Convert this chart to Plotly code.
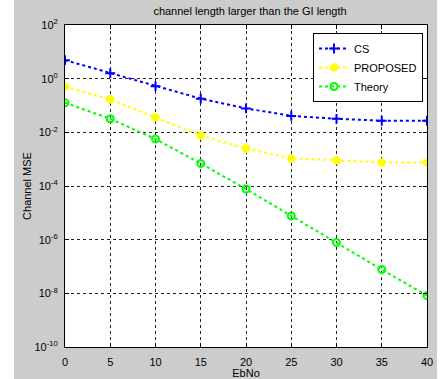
import plotly.graph_objects as go

ebno = [0, 5, 10, 15, 20, 25, 30, 35, 40]
cs = [4.9, 1.6, 0.52, 0.18, 0.078, 0.041, 0.032, 0.027, 0.027]
proposed = [0.5, 0.17, 0.036, 0.0076, 0.0025, 0.00107, 0.00091, 0.00075, 0.00075]
theory = [0.126, 0.032, 0.0056, 0.00069, 7.7e-5, 7.6e-6, 7.8e-7, 7.7e-8, 8.2e-9]

ytick_vals = [1e-10, 1e-8, 1e-6, 1e-4, 1e-2, 1, 1e2]
ytick_text = ["10<sup>-10</sup>", "10<sup>-8</sup>", "10<sup>-6</sup>", "10<sup>-4</sup>",
              "10<sup>-2</sup>", "10<sup>0</sup>", "10<sup>2</sup>"]
xtick_vals = [0, 5, 10, 15, 20, 25, 30, 35, 40]

FONT = "Liberation Sans, Arial, sans-serif"

fig = go.Figure()
fig.add_trace(go.Scatter(x=ebno, y=cs, name="CS", mode="lines+markers",
                         line=dict(color="#0000ff", width=2, dash="dot"),
                         marker=dict(symbol="cross-thin-open", size=7, line=dict(color="#0000ff", width=2))))
fig.add_trace(go.Scatter(x=ebno, y=proposed, name="PROPOSED", mode="lines+markers",
                         line=dict(color="#ffff00", width=2, dash="dot"),
                         marker=dict(symbol="asterisk-open", size=7, line=dict(color="#ffff00", width=2.5))))
fig.add_trace(go.Scatter(x=ebno, y=theory, name="Theory", mode="lines+markers",
                         line=dict(color="#00ff00", width=2, dash="dot"),
                         marker=dict(symbol="circle-open", size=7, line=dict(color="#00ff00", width=2))))

L, R, T, B = 65, 16, 25, 32
W, H = 443, 379
pw, ph = W - L - R, H - T - B

fig.add_shape(type="rect", xref="paper", yref="paper",
              x0=(14 - L) / pw, x1=(437 - L) / pw, y0=-(H - T - ph) / ph - 0.05, y1=(H - B) / ph + 0.01,
              fillcolor="#cccccc", line=dict(width=0), layer="below")
fig.add_shape(type="rect", xref="paper", yref="paper", x0=0, x1=1, y0=0, y1=1,
              fillcolor="white", line=dict(width=0), layer="below")

axis_common = dict(showline=True, linecolor="black", linewidth=1, mirror="ticks",
                   ticks="inside", ticklen=4, tickcolor="black", automargin=False,
                   showgrid=True, gridcolor="#222222", gridwidth=1, griddash="3px,3px",
                   zeroline=False, tickfont=dict(family=FONT, size=11, color="black"))

fig.update_xaxes(range=[0, 40], tickvals=xtick_vals, ticklabelstandoff=5,
                 title=dict(text="EbNo", font=dict(family=FONT, size=11, color="black"), standoff=1),
                 **axis_common)
fig.update_yaxes(type="log", range=[-10, 2], tickvals=ytick_vals, ticktext=ytick_text, ticklabelstandoff=4,
                 title=dict(text="Channel MSE", font=dict(family=FONT, size=11, color="black"), standoff=0),
                 **axis_common)

fig.update_layout(
    width=W, height=H,
    margin=dict(l=L, r=R, t=T, b=B, pad=0, autoexpand=False),
    paper_bgcolor="white", plot_bgcolor="white",
    title=dict(text="channel length larger than the GI length", x=(250 - 0) / W, xanchor="center",
               y=1 - 11 / H, yanchor="middle", font=dict(family=FONT, size=11, color="black")),
    legend=dict(x=(423 - L) / pw, y=(H - B - 33) / ph, xanchor="right", yanchor="top",
                bgcolor="white", bordercolor="black", borderwidth=1, itemwidth=30,
                font=dict(family=FONT, size=11, color="black"), tracegroupgap=0),
    showlegend=True,
)

fig.write_html("out.html")
